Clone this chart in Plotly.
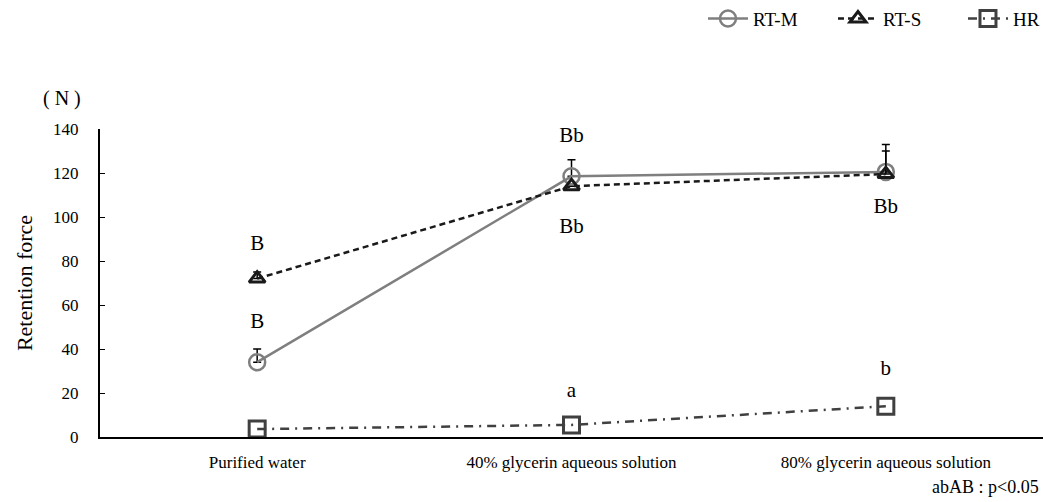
import plotly.graph_objects as go

categories = ["Purified water", "40% glycerin aqueous solution", "80% glycerin aqueous solution"]
rtm = [34, 118.5, 120.5]
rtm_err = [6, 7.5, 12.5]
rts = [72, 114, 119.5]
rts_err = [3, 0, 10.5]
hr = [3.6, 5.5, 14]

sig_text = ["B", "B", "Bb", "Bb", "Bb", "Bb", "a", "b"]
sig_x = [0, 0, 1, 1, 2, 2, 1, 2]
sig_y = [87.3, 51.8, 136.4, 95, 145.5, 104, 20.5, 30.5]

font = "Liberation Serif"
fig = go.Figure()
fig.add_trace(go.Scatter(
    x=[0, 1, 2], y=rtm, name="RT-M", mode="lines+markers", cliponaxis=False,
    line=dict(color="#7f7f7f", width=2.5),
    marker=dict(symbol="circle-open", size=16, color="#7f7f7f", line=dict(width=2.5)),
    error_y=dict(type="data", symmetric=False, array=rtm_err, arrayminus=[0, 0, 0],
                 color="black", thickness=1.5, width=4),
))
fig.add_trace(go.Scatter(
    x=[0, 1, 2], y=rts, name="RT-S", mode="lines+markers", cliponaxis=False,
    line=dict(color="#1a1a1a", width=2.5, dash="6px,4px"),
    marker=dict(symbol="triangle-up-open", size=14, color="#1a1a1a", line=dict(width=3)),
    error_y=dict(type="data", symmetric=False, array=rts_err, arrayminus=[0, 0, 0],
                 color="black", thickness=1.5, width=4),
))
fig.add_trace(go.Scatter(
    x=[0, 1, 2], y=hr, name="HR", mode="lines+markers", cliponaxis=False,
    line=dict(color="#404040", width=2.5, dash="9px,6px,2px,6px"),
    marker=dict(symbol="square-open", size=16, color="#404040", line=dict(width=3)),
))
fig.add_trace(go.Scatter(
    x=sig_x, y=sig_y, text=sig_text, mode="text", cliponaxis=False, showlegend=False,
    textfont=dict(family=font, size=21, color="black"), hoverinfo="skip",
))

fig.add_annotation(xref="paper", yref="paper", x=0.998, y=-0.162, xanchor="right",
                   yanchor="middle", text="abAB : p&lt;0.05", showarrow=False,
                   font=dict(family=font, size=18, color="black"))
fig.add_annotation(xref="paper", yref="paper", x=-0.04, y=1.1, xanchor="center",
                   yanchor="middle", text="( N )", showarrow=False,
                   font=dict(family=font, size=20, color="black"))

fig.update_layout(
    width=1043, height=502,
    margin=dict(l=100, r=0, t=129, b=65, autoexpand=False),
    paper_bgcolor="white", plot_bgcolor="white",
    font=dict(family=font, size=17, color="black"),
    showlegend=True,
    legend=dict(orientation="h", x=1.053, xanchor="right", y=1.42, yanchor="top",
                font=dict(family=font, size=19), traceorder="normal",
                entrywidth=75, entrywidthmode="pixels",
                itemwidth=40, bgcolor="rgba(0,0,0,0)"),
    xaxis=dict(range=[-0.5, 2.5], tickmode="array", tickvals=[0, 1, 2], ticktext=categories,
               showline=True, linecolor="black", linewidth=2, showgrid=False,
               zeroline=False, ticks="", ticklabelstandoff=9,
               tickfont=dict(family=font, size=17)),
    yaxis=dict(range=[0, 140], tickmode="linear", dtick=20, showline=True,
               linecolor="black", linewidth=2, ticks="inside", ticklen=5,
               tickcolor="black", showgrid=False, zeroline=False, ticklabelstandoff=16,
               title=dict(text="Retention force", font=dict(family=font, size=22), standoff=14),
               tickfont=dict(family=font, size=17)),
)

fig.write_html("out.html", config={"displayModeBar": False},
               post_script="document.body.style.margin='0';document.body.style.overflow='hidden';")
